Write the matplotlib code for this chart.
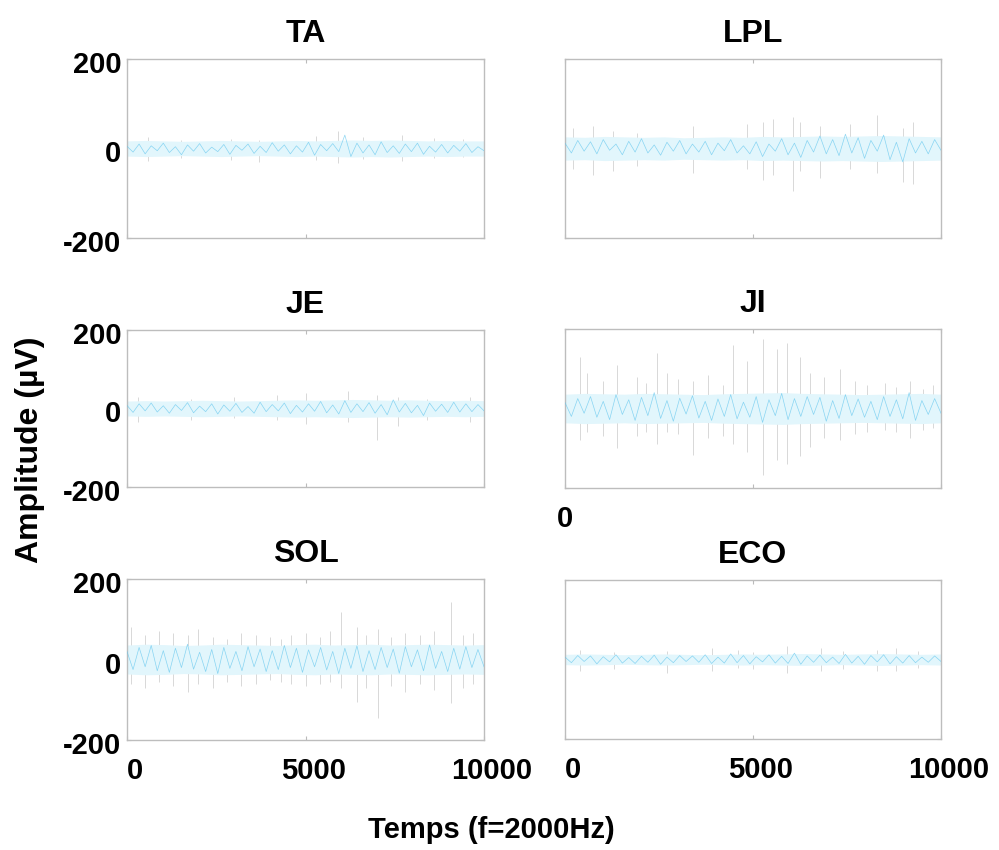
import numpy as np
import matplotlib
matplotlib.use('Agg')
import matplotlib.pyplot as plt
import matplotlib.transforms as mtransforms

# EMG signals, 10000 samples, amplitude in uV
muscles = ['TA', 'LPL', 'JE', 'JI', 'SOL', 'ECO']
n_samples = 10000
y_ticks = [-200, 0, 200]
x_ticks = [0, 5000, 10000]

# cyan core band half-width along the record
ta_band = [17, 18, 17, 16, 17, 18, 17, 16, 17, 18, 17, 18, 19, 18, 19, 18, 17, 18, 17, 17]
lpl_band = [26, 25, 27, 26, 25, 26, 24, 25, 26, 25, 27, 26, 27, 28, 27, 28, 29, 28, 27, 26]
je_band = [19, 20, 19, 20, 21, 20, 19, 20, 21, 22, 21, 22, 23, 22, 21, 22, 21, 20, 21, 20]
ji_band = [36, 38, 37, 36, 38, 37, 36, 35, 37, 38, 39, 40, 38, 37, 36, 35, 36, 37, 38, 36]
sol_band = [36, 38, 37, 35, 36, 38, 37, 36, 35, 37, 38, 36, 37, 38, 36, 37, 38, 37, 36, 37]
eco_band = [13, 14, 13, 12, 13, 14, 13, 12, 13, 14, 13, 14, 15, 14, 13, 14, 15, 14, 13, 14]

# main trace, alternating peaks
ta_trace = [5, -8, 10, -12, 6, -5, 12, -9, 4, -14, 8, -6, 11, -10, 3, -7, 9, -13, 7, -4,
            10, -11, 5, -9, 13, -6, 8, -12, 6, -8, 14, -15, 9, -5, 11, -7, 30, -18, 12, -10,
            8, -14, 15, -9, 6, -11, 10, -7, 12, -13, 5, -8, 9, -10, 7, -6, 11, -9, 4, -5]
lpl_trace = [12, -10, 18, -6, 15, -12, 20, -4, 10, -14, 16, -8, 22, -10, 8, -15, 14, -6, 18, -12,
             10, -8, 16, -14, 12, -5, 20, -10, 6, -12, 15, -18, 10, -6, 22, -14, 12, -20, 18, -8,
             28, -12, 20, -16, 32, -10, 24, -22, 18, -6, 30, -25, 14, -30, 22, -10, 16, -12, 20, -4]
je_trace = [8, -10, 12, -6, 14, -9, 7, -12, 10, -5, 15, -11, 6, -8, 12, -14, 9, -7, 13, -10,
            5, -12, 16, -8, 10, -6, 14, -13, 8, -9, 12, -7, 18, -11, 9, -14, 20, -10, 12, -8,
            15, -12, 10, -16, 22, -9, 13, -11, 8, -18, 14, -7, 11, -10, 16, -9, 12, -8, 10, -6]
ji_trace = [15, -20, 25, -12, 30, -22, 18, -28, 35, -15, 22, -30, 28, -18, 40, -25, 20, -32, 26, -14,
            32, -24, 18, -30, 24, -20, 35, -26, 16, -22, 30, -35, 22, -18, 38, -28, 25, -20, 30, -15,
            28, -32, 20, -25, 35, -18, 24, -22, 18, -28, 30, -20, 22, -26, 40, -30, 20, -15, 25, -12]
sol_trace = [20, -25, 30, -18, 35, -28, 22, -32, 28, -20, 38, -24, 18, -30, 25, -35, 30, -22, 20, -28,
             32, -18, 26, -30, 22, -25, 35, -20, 28, -32, 24, -18, 30, -26, 20, -35, 28, -22, 34, -30,
             22, -25, 30, -20, 26, -34, 32, -18, 24, -28, 36, -22, 20, -30, 28, -24, 32, -20, 25, -18]
eco_trace = [6, -8, 10, -5, 9, -11, 7, -6, 12, -9, 5, -10, 8, -7, 11, -12, 6, -8, 10, -5,
             9, -7, 12, -10, 6, -9, 14, -8, 10, -11, 7, -6, 12, -9, 8, -10, 16, -12, 9, -7,
             11, -8, 6, -10, 13, -9, 8, -12, 10, -6, 12, -11, 7, -9, 10, -8, 6, -7, 9, -5]

# faint grey spikes: sample index, top, bottom
ta_spk_x = [600, 1500, 2900, 3700, 5300, 5900, 6600, 7700, 8600, 9400]
ta_spk_hi = [25, 20, 22, 18, 28, 38, 26, 30, 24, 22]
ta_spk_lo = [-28, -22, -25, -30, -26, -32, -24, -28, -22, -20]

lpl_spk_x = [210, 750, 1280, 1910, 3400, 4840, 5270, 5530, 6060, 6250, 6780, 7580, 8300, 8990, 9260]
lpl_spk_hi = [45, 50, 40, 35, 50, 55, 60, 65, 70, 60, 50, 55, 75, 45, 60]
lpl_spk_lo = [-45, -60, -50, -40, -55, -45, -70, -60, -95, -50, -65, -45, -55, -75, -80]

je_spk_x = [300, 1800, 3000, 4200, 5000, 6200, 7000, 7600, 8400, 9600]
je_spk_hi = [30, 25, 30, 35, 40, 45, 35, 30, 25, 30]
je_spk_lo = [-35, -30, -25, -30, -40, -35, -80, -45, -30, -35]

ji_spk_x = [400, 585, 1000, 1380, 1915, 2150, 2450, 2710, 3000, 3400, 3800, 4200, 4470, 4840,
            5270, 5640, 5900, 6250, 6520, 6900, 7310, 7700, 8030, 8500, 8800, 9180, 9520, 9800]
ji_spk_hi = [130, 90, 70, 110, 80, 65, 140, 90, 75, 70, 85, 60, 160, 120,
             175, 150, 165, 130, 90, 80, 100, 70, 60, 65, 55, 70, 50, 60]
ji_spk_lo = [-80, -60, -70, -100, -70, -60, -90, -60, -65, -118, -75, -70, -90, -110,
             -168, -130, -140, -120, -98, -75, -80, -65, -60, -55, -60, -75, -55, -50]

sol_spk_x = [100, 500, 900, 1300, 1700, 2000, 2400, 2800, 3200, 3600, 4000, 4300, 4600, 5000,
             5400, 5700, 6000, 6450, 6700, 7040, 7400, 7800, 8200, 8600, 9080, 9400, 9700]
sol_spk_hi = [80, 60, 70, 65, 60, 75, 55, 50, 65, 60, 55, 50, 60, 65,
              55, 70, 117, 80, 60, 75, 55, 65, 60, 70, 142, 60, 65]
sol_spk_lo = [-60, -70, -55, -65, -80, -60, -70, -55, -65, -60, -50, -55, -60, -65,
              -60, -55, -70, -105, -70, -145, -65, -80, -60, -75, -107, -70, -60]

eco_spk_x = [400, 1300, 2700, 3900, 4600, 5000, 5900, 6800, 7400, 8300, 8800, 9400]
eco_spk_hi = [25, 20, 22, 30, 25, 20, 35, 28, 22, 25, 30, 22]
eco_spk_lo = [-30, -25, -35, -28, -22, -25, -35, -30, -25, -30, -28, -22]

bands = [ta_band, lpl_band, je_band, ji_band, sol_band, eco_band]
traces = [ta_trace, lpl_trace, je_trace, ji_trace, sol_trace, eco_trace]
spikes = [(ta_spk_x, ta_spk_hi, ta_spk_lo), (lpl_spk_x, lpl_spk_hi, lpl_spk_lo),
          (je_spk_x, je_spk_hi, je_spk_lo), (ji_spk_x, ji_spk_hi, ji_spk_lo),
          (sol_spk_x, sol_spk_hi, sol_spk_lo), (eco_spk_x, eco_spk_hi, eco_spk_lo)]

plt.rcParams['font.family'] = ['Liberation Sans', 'DejaVu Sans']
plt.rcParams['font.weight'] = 'bold'
plt.rcParams['axes.unicode_minus'] = False

W, H = 999, 850
fig = plt.figure(figsize=(W / 100, H / 100), dpi=100)

# axes boxes in pixels: left, top, right, bottom
boxes = [(127, 59, 484, 238), (565, 59, 941, 238),
         (127, 330, 484, 487), (565, 329, 941, 488),
         (127, 579, 484, 740), (565, 580, 941, 739)]

for i, name in enumerate(muscles):
    l, t, r, b = boxes[i]
    ax = fig.add_axes([l / W, 1 - b / H, (r - l) / W, (b - t) / H])
    sx, shi, slo = spikes[i]
    ax.vlines(sx, slo, shi, color='#d2d2d2', lw=0.6, zorder=1)
    bx = np.linspace(0, n_samples, len(bands[i]))
    band = np.array(bands[i])
    ax.fill_between(bx, -band, band, color='#e2f6fc', lw=0, zorder=2)
    tx = np.linspace(0, n_samples, len(traces[i]))
    ax.plot(tx, traces[i], color='#62c6ee', lw=0.5, alpha=0.7, zorder=3)
    ax.set_xlim(0, n_samples)
    ax.set_ylim(-200, 200)
    ax.set_xticks(x_ticks)
    ax.set_yticks(y_ticks)
    ax.tick_params(direction='in', length=3, color='#bbbbbb', top=True, right=True,
                   labelsize=21)
    ax.tick_params(axis='x', pad=12)
    ax.tick_params(axis='y', pad=4)
    for s in ax.spines.values():
        s.set_color('#bdbdbd')
        s.set_linewidth(1.0)
    ax.set_title(name, fontsize=23, fontweight='bold', pad=12)
    if i % 2 == 1:
        ax.set_yticklabels([])
    if i < 4:
        if name == 'JI':
            ax.set_xticklabels(['0', '', ''])
        else:
            ax.set_xticklabels([])
    else:
        shift = mtransforms.ScaledTranslation(8 / 100, 0, fig.dpi_scale_trans)
        for lab in ax.get_xticklabels():
            lab.set_transform(lab.get_transform() + shift)
    ydown = mtransforms.ScaledTranslation(0, -3 / 100, fig.dpi_scale_trans)
    for lab in ax.get_yticklabels():
        lab.set_transform(lab.get_transform() + ydown)

fig.text(30 / W, 1 - 450 / H, 'Amplitude (µV)', rotation=90, ha='center', va='center',
         fontsize=23, fontweight='bold')
fig.text(491 / W, 1 - 830 / H, 'Temps (f=2000Hz)', ha='center', va='center',
         fontsize=21, fontweight='bold')

fig.savefig('out.png', dpi=100)
